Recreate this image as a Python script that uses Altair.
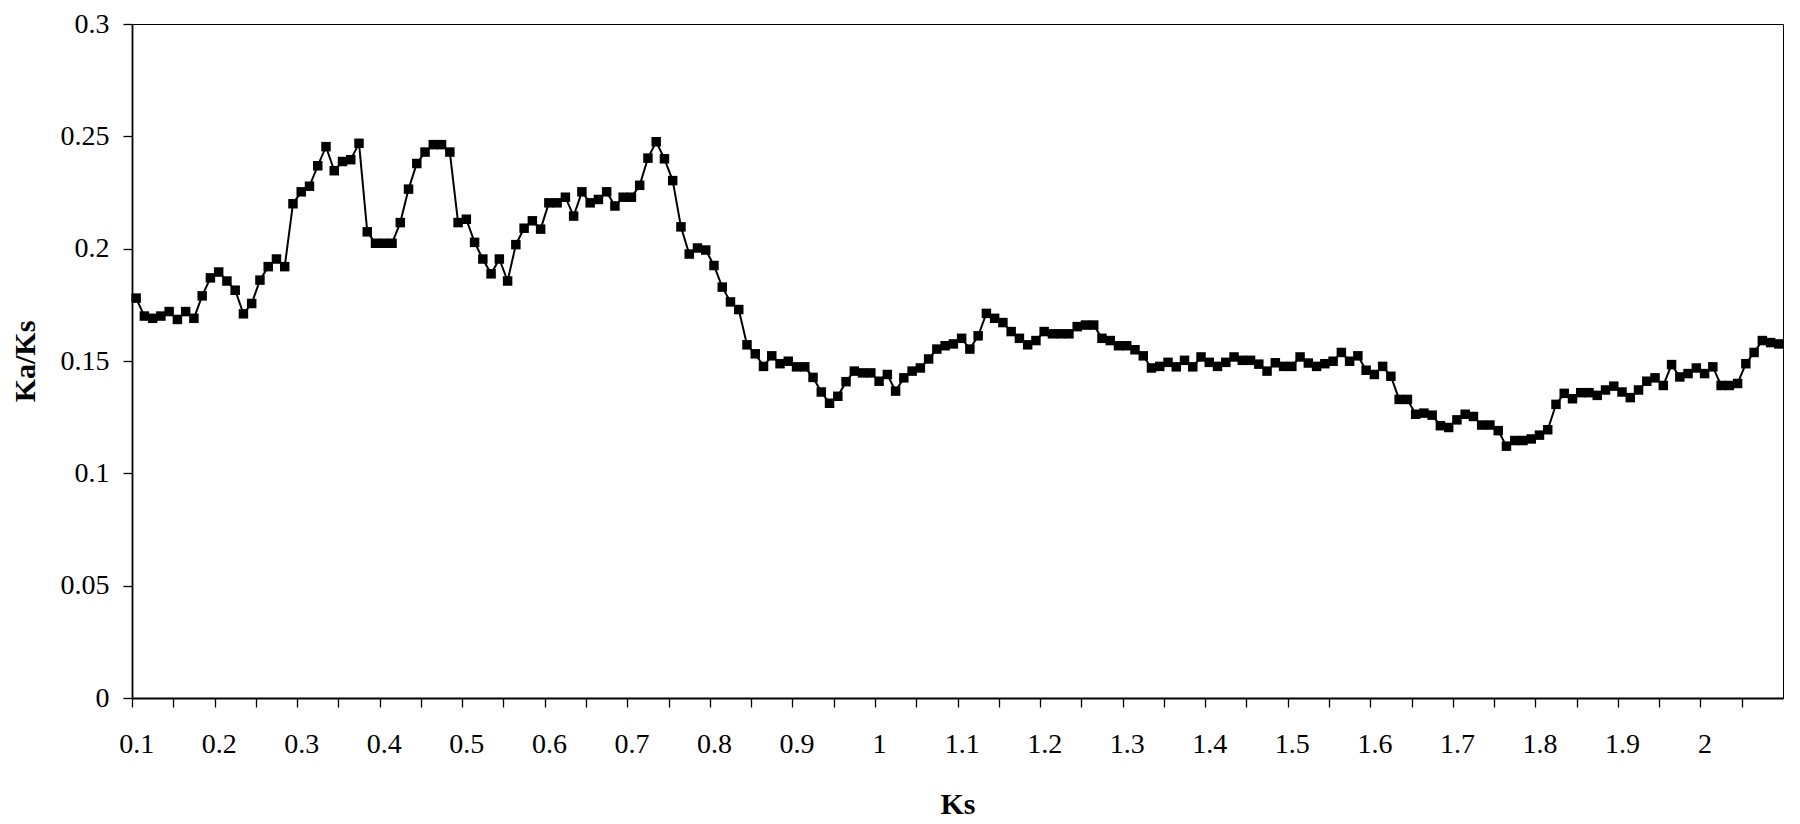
import altair as alt
import pandas as pd

# Ks categories (0.10 .. 2.09, step 0.01)
ks = [round(0.10 + 0.01 * i, 2) for i in range(200)]

kaks = [
    0.178, 0.170, 0.169, 0.170, 0.172, 0.1685, 0.172, 0.169, 0.179, 0.187,
    0.1896, 0.1856, 0.1815, 0.171, 0.1756, 0.186, 0.192, 0.1954, 0.192, 0.220,
    0.2253, 0.2278, 0.2369, 0.2454, 0.2347, 0.2388, 0.2396, 0.2469, 0.2075, 0.2024,
    0.2024, 0.2024, 0.2116, 0.2265, 0.2379, 0.243, 0.2463, 0.2463, 0.243, 0.2116,
    0.2131, 0.2028, 0.1954, 0.1888, 0.1954, 0.1856, 0.2018, 0.2091, 0.2124, 0.2087,
    0.2204, 0.2204, 0.2229, 0.2145, 0.2253, 0.2204, 0.2219, 0.2253, 0.2190, 0.2229,
    0.2229, 0.2282, 0.2403, 0.2476, 0.2400, 0.2303, 0.2097, 0.1976, 0.2003, 0.1994,
    0.1925, 0.1829, 0.1763, 0.1729, 0.1572, 0.1532, 0.1476, 0.1523, 0.1488, 0.1499,
    0.1474, 0.1474, 0.1427, 0.1362, 0.1312, 0.1343, 0.1408, 0.1455, 0.1447, 0.1447,
    0.1410, 0.1440, 0.1366, 0.1425, 0.1455, 0.1469, 0.1509, 0.1553, 0.1568, 0.1576,
    0.1601, 0.1553, 0.1612, 0.1712, 0.1690, 0.1671, 0.1631, 0.1601, 0.1572, 0.1591,
    0.1631, 0.1621, 0.1621, 0.1621, 0.1653, 0.1660, 0.1660, 0.1601, 0.1591, 0.1568,
    0.1568, 0.1550, 0.1523, 0.1469, 0.1476, 0.1494, 0.1474, 0.1503, 0.1474, 0.1518,
    0.1494, 0.1476, 0.1494, 0.1518, 0.1503, 0.1503, 0.1486, 0.1455, 0.1492, 0.1476,
    0.1476, 0.1518, 0.1491, 0.1476, 0.1488, 0.1499, 0.1538, 0.1499, 0.1523, 0.1459,
    0.1440, 0.1476, 0.1432, 0.1329, 0.1329, 0.1263, 0.1268, 0.1259, 0.1212, 0.1204,
    0.1238, 0.1263, 0.1253, 0.1215, 0.1215, 0.1190, 0.1121, 0.1146, 0.1146, 0.1153,
    0.1170, 0.1194, 0.1307, 0.1356, 0.1332, 0.1359, 0.1359, 0.1347, 0.1371, 0.1388,
    0.1362, 0.1337, 0.1371, 0.1410, 0.1425, 0.1391, 0.1484, 0.1429, 0.1444, 0.1469,
    0.1444, 0.1474, 0.1391, 0.1391, 0.1400, 0.1488, 0.1538, 0.1591, 0.1582, 0.1576,
]

x_tick_values = [round(0.10 + 0.05 * k, 2) for k in range(41)]
y_tick_values = [0, 0.05, 0.1, 0.15, 0.2, 0.25, 0.3]

df = pd.DataFrame({"Ks": ks, "KaKs": kaks})

W, H = 1651, 674
half = W / 200 / 2

x_axis = alt.Axis(
    values=x_tick_values,
    tickOffset=-half,
    labelOffset=half,
    labelExpr="(round(datum.value*100) % 10 == 0 && datum.value < 2.05) ? '' + round(datum.value*10)/10 : ''",
    labelFlush=False,
    labelOverlap=False,
    labelBound=False,
    tickSize=9,
    labelPadding=37,
    labelBaseline="middle",
    grid=False,
    title="Ks",
    titleX=W / 2,
    titleY=106,
    titleBaseline="middle",
    titleAlign="center",
)

y_axis = alt.Axis(
    values=y_tick_values,
    format="~g",
    tickSize=9,
    labelPadding=14,
    grid=False,
    title="Ka/Ks",
    titleX=-107,
    titleY=H / 2,
    titleAngle=270,
    titleAlign="center",
    titleBaseline="middle",
)

x_enc = alt.X("Ks:Q", scale=alt.Scale(domain=[0.095, 2.095], nice=False, zero=False), axis=x_axis)
y_enc = alt.Y("KaKs:Q", scale=alt.Scale(domain=[0, 0.3], nice=False), axis=y_axis)

line = alt.Chart(df).mark_line(color="black", strokeWidth=2).encode(x=x_enc, y=y_enc)
pts = alt.Chart(df).mark_point(shape="square", filled=True, size=90, color="black", opacity=1).encode(x=x_enc, y=y_enc)

chart = (
    alt.layer(line, pts)
    .properties(
        width=W,
        height=H,
        background="white",
        autosize=alt.AutoSizeParams(type="none"),
        padding={"left": 124, "top": 16, "right": 9, "bottom": 124},
    )
    .configure_view(stroke="black", strokeWidth=1)
    .configure_axis(
        domainColor="black",
        domainWidth=1.8,
        tickColor="black",
        tickWidth=1.3,
        labelColor="black",
        titleColor="black",
        labelFont="Liberation Serif",
        labelFontSize=28,
        titleFont="Liberation Serif",
        titleFontSize=30,
        titleFontWeight="bold",
    )
)

chart.save("out.html", embed_options={"renderer": "svg", "actions": False})
